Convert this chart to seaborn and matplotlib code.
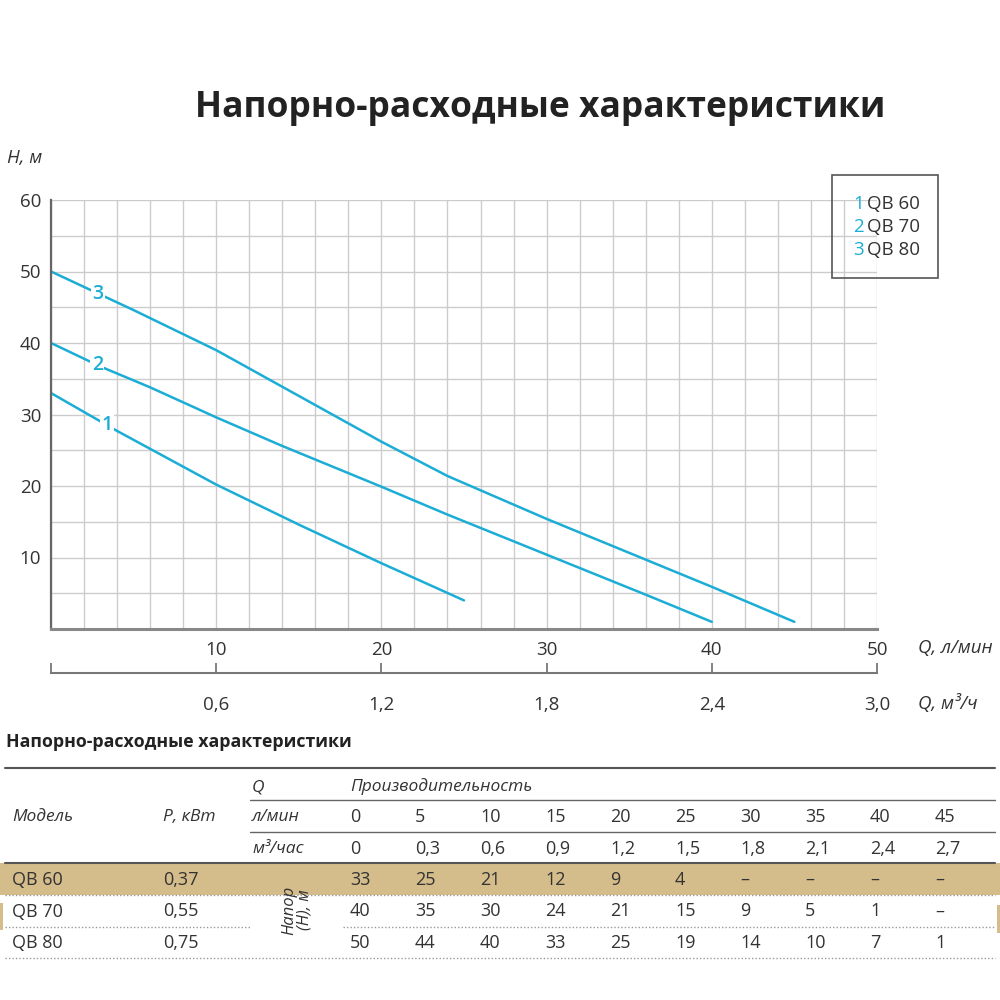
import numpy as np
import pandas as pd
import matplotlib
matplotlib.use("Agg")
from matplotlib import pyplot as plt
from matplotlib.patches import Rectangle
from matplotlib.ticker import MultipleLocator
import seaborn as sns

# кривые H(Q) (Q в л/мин, H в м)
q_qb60 = [0, 4, 10, 15, 20, 25]
h_qb60 = [33, 27.7, 20.2, 14.6, 9.2, 4.0]
q_qb70 = [0, 3, 6, 10, 14, 20, 24, 30, 36, 40]
h_qb70 = [40, 36.7, 33.8, 29.6, 25.6, 19.9, 16.0, 10.4, 4.8, 1.0]
q_qb80 = [0, 5, 10, 20, 24, 26, 30, 36, 40, 45]
h_qb80 = [50, 44.6, 39.0, 26.2, 21.4, 19.4, 15.4, 9.7, 5.9, 1.0]
curve_names = ["1", "2", "3"]
label_q = [3.4, 2.8, 2.85]

q_ticks = [10, 20, 30, 40, 50]
h_ticks = [10, 20, 30, 40, 50, 60]
m3_ticks = [0.6, 1.2, 1.8, 2.4, 3.0]
m3_labels = ["0,6", "1,2", "1,8", "2,4", "3,0"]

# таблица
models = ["QB 60", "QB 70", "QB 80"]
power = ["0,37", "0,55", "0,75"]
flow_lpm = ["0", "5", "10", "15", "20", "25", "30", "35", "40", "45"]
flow_m3h = ["0", "0,3", "0,6", "0,9", "1,2", "1,5", "1,8", "2,1", "2,4", "2,7"]
head_qb60 = ["33", "25", "21", "12", "9", "4", "–", "–", "–", "–"]
head_qb70 = ["40", "35", "30", "24", "21", "15", "9", "5", "1", "–"]
head_qb80 = ["50", "44", "40", "33", "25", "19", "14", "10", "7", "1"]

cyan = "#1cadd6"
txt = "#333333"
tan = "#d4bc8b"

curves = pd.concat([
    pd.DataFrame({"Q": q_qb60, "H": h_qb60, "model": models[0]}),
    pd.DataFrame({"Q": q_qb70, "H": h_qb70, "model": models[1]}),
    pd.DataFrame({"Q": q_qb80, "H": h_qb80, "model": models[2]}),
])

sns.set_theme(style="white")
plt.rcParams['font.family'] = ['Open Sans', 'DejaVu Sans']

fig = plt.figure(figsize=(10, 10), dpi=100)
ax = fig.add_axes([0.051, 0.371, 0.826, 0.429])
sns.lineplot(data=curves, x="Q", y="H", hue="model", palette=[cyan] * 3,
             estimator=None, legend=False, linewidth=1.8, ax=ax)
ax.set_xlim(0, 50)
ax.set_ylim(0, 60)
ax.set_xticks(q_ticks)
ax.set_yticks(h_ticks)
ax.xaxis.set_minor_locator(MultipleLocator(2))
ax.yaxis.set_minor_locator(MultipleLocator(5))
ax.grid(which="both", color="#cccccc", lw=1)
ax.set_axisbelow(True)
ax.set_xlabel("")
ax.set_ylabel("")
ax.tick_params(axis="both", which="both", length=0, labelsize=13.5, labelcolor=txt)
ax.tick_params(axis="x", pad=8.5)
ax.tick_params(axis="y", pad=7)
for s in ["top", "right"]:
    ax.spines[s].set_visible(False)
ax.spines["left"].set_color("#666666")
ax.spines["left"].set_linewidth(1.6)
ax.spines["bottom"].set_color("#888888")
ax.spines["bottom"].set_linewidth(2.2)

# номера кривых
for name, q, qs, hs in zip(curve_names, label_q, [q_qb60, q_qb70, q_qb80], [h_qb60, h_qb70, h_qb80]):
    ax.text(q, np.interp(q, qs, hs), name, color=cyan, fontsize=14, weight="semibold",
            ha="center", va="center", bbox=dict(fc="white", ec="none", pad=1))

# вторая шкала м3/ч
sec = ax.secondary_xaxis("bottom", functions=(lambda q: q * 0.06, lambda m: m / 0.06))
sec.set_xticks([0] + m3_ticks, labels=[""] + m3_labels)
sec.spines["bottom"].set_position(("outward", 32))
sec.spines["bottom"].set_color("#777777")
sec.spines["bottom"].set_linewidth(1.5)
sec.tick_params(direction="in", length=7, width=1.3, color="#777777",
                labelsize=13.5, labelcolor=txt, pad=16)

# надписи и таблица в пиксельных координатах
ov = fig.add_axes([0, 0, 1, 1])
ov.set_xlim(0, 1000)
ov.set_ylim(1000, 0)
ov.axis("off")

ov.text(540, 108, "Напорно-расходные характеристики", ha="center", va="center",
        fontsize=25.5, weight="bold", color="#222222")
ov.text(7, 158, "H, м", style="italic", fontsize=13.5, va="center", color=txt)
ov.text(918, 648, "Q, л/мин", style="italic", fontsize=13.5, va="center", color=txt)
ov.text(918, 704, "Q, м³/ч", style="italic", fontsize=13.5, va="center", color=txt)

ov.add_patch(Rectangle((832, 175), 106, 103, fill=False, ec="#555555", lw=1.2))
for i, (name, model) in enumerate(zip(curve_names, models)):
    y = 204 + 23 * i
    ov.text(853, y, name, color=cyan, fontsize=13.5, va="center")
    ov.text(867, y, model, color=txt, fontsize=13.5, va="center")

ov.text(6, 742, "Напорно-расходные характеристики", fontsize=12.8, weight="bold",
        va="center", color="#222222")
ov.plot([5, 995], [768, 768], color="#555555", lw=1.5)
ov.plot([250, 995], [800, 800], color="#666666", lw=1)
ov.plot([250, 995], [832, 832], color="#666666", lw=1)
ov.add_patch(Rectangle((0, 863), 1000, 32, fc=tan, ec="none"))
ov.add_patch(Rectangle((0, 903), 3, 27, fc=tan, ec="none"))
ov.add_patch(Rectangle((997, 905), 3, 28, fc=tan, ec="none"))
ov.plot([5, 995], [863, 863], color="#555555", lw=1.5)
dot = dict(color="#999999", lw=1, ls=(0, (1, 1.5)))
ov.plot([5, 995], [895, 895], **dot)
ov.plot([5, 250], [927, 927], **dot)
ov.plot([343, 995], [927, 927], **dot)
ov.plot([5, 995], [958, 958], **dot)

hdr = dict(style="italic", fontsize=12.5, va="center", color=txt)
ov.text(252, 787, "Q", **hdr)
ov.text(350, 787, "Производительность", **hdr)
ov.text(12, 817, "Модель", **hdr)
ov.text(163, 817, "P, кВт", **hdr)
ov.text(252, 817, "л/мин", **hdr)
ov.text(252, 849, "м³/час", **hdr)
ov.text(297, 910, "Напор\n(H), м", rotation=90, ha="center", va="center",
        style="italic", fontsize=12, linespacing=0.95, color=txt)

cell = dict(fontsize=13, va="center", color=txt)
for i, (lpm, m3) in enumerate(zip(flow_lpm, flow_m3h)):
    ov.text(350 + 65 * i, 817, lpm, **cell)
    ov.text(350 + 65 * i, 849, m3, **cell)
for r, (model, p, heads) in enumerate(zip(models, power, [head_qb60, head_qb70, head_qb80])):
    y = 880 + 31.5 * r
    ov.text(12, y, model, **cell)
    ov.text(163, y, p, **cell)
    for i, h in enumerate(heads):
        ov.text(350 + 65 * i, y, h, **cell)

fig.savefig("out.png", dpi=100)
